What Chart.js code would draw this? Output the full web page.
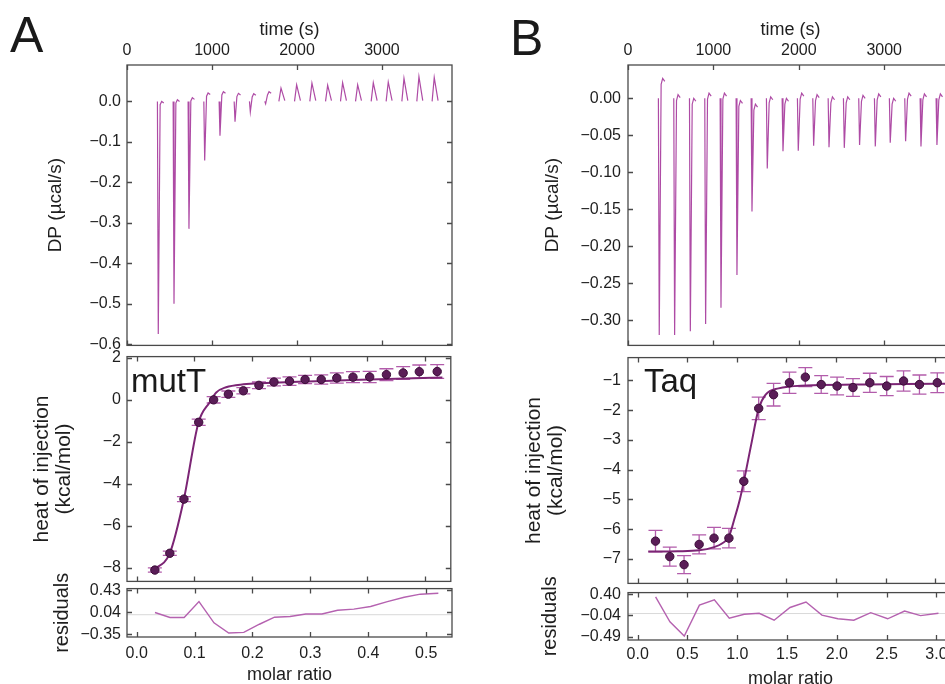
<!DOCTYPE html>
<html>
<head>
<meta charset="utf-8">
<script src="https://cdn.jsdelivr.net/npm/chart.js@4"></script>
<style>
  html, body { margin: 0; padding: 0; background: #fff; width: 945px; height: 684px; overflow: hidden; position: relative; }
  canvas { position: absolute; }
  .lbl { position: absolute; font-family: "Liberation Sans", Arial, Helvetica, sans-serif; line-height: 1; color: #1a1a1a; white-space: nowrap; }
</style>
</head>
<body>
<div class="lbl" style="left:10px;top:10px;font-size:50px">A</div>
<div class="lbl" style="left:510px;top:13px;font-size:50px">B</div>
<canvas id="aTop"></canvas>
<canvas id="aMid"></canvas>
<canvas id="aRes"></canvas>
<canvas id="bTop"></canvas>
<canvas id="bMid"></canvas>
<canvas id="bRes"></canvas>
<div class="lbl" style="left:131px;top:364px;font-size:33px">mutT</div>
<div class="lbl" style="left:644px;top:364px;font-size:33px">Taq</div>
<script>
// --- Shared axis ticks --- //
const timeTicks = [0, 1000, 2000, 3000];
const timeLabels = ['0', '1000', '2000', '3000'];

// --- Panel A (mutT) --- //
const injTimesA = [368, 553, 729, 914, 1094, 1271, 1451, 1631, 1812, 1996, 2176, 2361, 2537, 2714, 2898, 3074, 3259, 3435, 3615];
const peakDpA = [-0.575, -0.50, -0.315, -0.146, -0.085, -0.05, -0.026, -0.006, 0.033, 0.041, 0.045, 0.040, 0.046, 0.041, 0.046, 0.048, 0.057, 0.061, 0.059];
const endDpA = [0.0, 0.004, 0.009, 0.021, 0.024, 0.020, 0.019, 0.024, 0.002, 0.002, 0.002, 0.002, 0.002, 0.002, 0.002, 0.002, 0.002, 0.002, 0.002];
const dpTicksA = [0, -0.1, -0.2, -0.3, -0.4, -0.5, -0.6];
const dpLabelsA = ['0.0', '−0.1', '−0.2', '−0.3', '−0.4', '−0.5', '−0.6'];

const molarA = [0.0316, 0.0575, 0.082, 0.1076, 0.1335, 0.159, 0.185, 0.212, 0.238, 0.265, 0.292, 0.32, 0.347, 0.375, 0.404, 0.433, 0.462, 0.49, 0.521];
const heatA = [-8.11, -7.31, -4.73, -1.07, 0.0, 0.27, 0.43, 0.69, 0.85, 0.89, 0.97, 0.97, 1.04, 1.08, 1.09, 1.20, 1.28, 1.34, 1.35];
const heatErrA = [0.1, 0.1, 0.12, 0.15, 0.15, 0.15, 0.15, 0.16, 0.18, 0.2, 0.2, 0.22, 0.24, 0.26, 0.27, 0.28, 0.3, 0.32, 0.33];
const fitMolarA = [0.028, 0.0575, 0.082, 0.107, 0.127, 0.138, 0.155, 0.185, 0.225, 0.28, 0.35, 0.42, 0.48, 0.53];
const fitHeatA = [-8.12, -7.3, -4.72, -1.1, -0.1, 0.35, 0.6, 0.74, 0.8, 0.86, 0.92, 0.98, 1.03, 1.07];
const residA = [0.039, -0.049, -0.049, 0.232, -0.143, -0.324, -0.313, -0.169, -0.044, -0.032, 0.013, 0.013, 0.079, 0.10, 0.145, 0.232, 0.31, 0.364, 0.38];
const heatTicksA = [2, 0, -2, -4, -6, -8];
const heatLabelsA = ['2', '0', '−2', '−4', '−6', '−8'];
const residTicksA = [0.43, 0.04, -0.35];
const residLabelsA = ['0.43', '0.04', '−0.35'];
const molarTicksA = [0, 0.1, 0.2, 0.3, 0.4, 0.5];
const molarLabelsA = ['0.0', '0.1', '0.2', '0.3', '0.4', '0.5'];

// --- Panel B (Taq) --- //
const injTimesB = [366, 546, 730, 909, 1089, 1276, 1452, 1631, 1815, 1994, 2174, 2354, 2533, 2712, 2896, 3071, 3251, 3431, 3618];
const peakDpB = [-0.32, -0.32, -0.315, -0.305, -0.283, -0.239, -0.153, -0.095, -0.0715, -0.071, -0.064, -0.066, -0.067, -0.063, -0.065, -0.06, -0.058, -0.065, -0.063];
const endDpB = [0.027, 0.005, 0.0, 0.007, 0.007, -0.003, -0.008, 0.002, 0.0, 0.007, 0.005, 0.002, 0.002, 0.004, 0.006, 0.0, 0.007, 0.006, 0.006];
const dpTicksB = [0, -0.05, -0.1, -0.15, -0.2, -0.25, -0.3];
const dpLabelsB = ['0.00', '−0.05', '−0.10', '−0.15', '−0.20', '−0.25', '−0.30'];

const molarB = [0.18, 0.324, 0.468, 0.62, 0.77, 0.92, 1.07, 1.22, 1.37, 1.53, 1.69, 1.85, 2.01, 2.17, 2.34, 2.51, 2.68, 2.84, 3.02];
const heatB = [-6.40, -6.92, -7.19, -6.51, -6.30, -6.30, -4.39, -1.94, -1.48, -1.08, -0.89, -1.14, -1.19, -1.24, -1.08, -1.19, -1.02, -1.14, -1.08];
const heatErrB = [0.36, 0.32, 0.3, 0.32, 0.36, 0.33, 0.35, 0.38, 0.38, 0.36, 0.32, 0.3, 0.3, 0.3, 0.32, 0.32, 0.34, 0.32, 0.33];
const fitMolarB = [0.107, 0.4, 0.62, 0.77, 0.85, 0.92, 0.98, 1.03, 1.07, 1.145, 1.22, 1.29, 1.42, 1.7, 2.2, 2.7, 3.17];
const fitHeatB = [-6.75, -6.74, -6.71, -6.6, -6.48, -6.25, -5.6, -5.0, -4.4, -3.15, -1.95, -1.48, -1.27, -1.17, -1.14, -1.12, -1.11];
const residB = [0.348, -0.172, -0.471, 0.177, 0.286, -0.096, -0.014, 0.005, -0.14, 0.127, 0.242, -0.033, -0.109, -0.14, 0.019, -0.109, 0.051, -0.044, 0.005];
const heatTicksB = [-1, -2, -3, -4, -5, -6, -7];
const heatLabelsB = ['−1', '−2', '−3', '−4', '−5', '−6', '−7'];
const residTicksB = [0.40, -0.04, -0.49];
const residLabelsB = ['0.40', '−0.04', '−0.49'];
const molarTicksB = [0, 0.5, 1.0, 1.5, 2.0, 2.5, 3.0];
const molarLabelsB = ['0.0', '0.5', '1.0', '1.5', '2.0', '2.5', '3.0'];

// --- Styles --- //
const FONT = '"Liberation Sans", Arial, Helvetica, sans-serif';
const INK = '#1e1e1e';
const FRAME = '#4a4a4a';
const TRACE = 'rgba(165, 55, 155, 0.9)';
const MARKER = '#5a1d57';
const ERRBAR = '#b25cab';
const FIT = '#7c2575';
const RESID = '#b562b0';

// one short trace segment per injection, gaps in between
function thermogram(times, peaks, ends) {
    const pts = [];
    times.forEach((t, i) => {
        const p = peaks[i], e = ends[i];
        if (p < 0) {
            pts.push({ x: t - 10, y: 0 }, { x: t, y: p }, { x: t + 22, y: e - 0.008 }, { x: t + 40, y: e }, { x: t + 65, y: e - 0.004 });
        } else {
            pts.push({ x: t - 25, y: 0 }, { x: t, y: p }, { x: t + 45, y: e });
        }
        pts.push({ x: t + 80, y: null });
    });
    return pts;
}

const xy = (xs, ys) => xs.map((x, i) => ({ x, y: ys[i] }));

function axis(o) {
    return {
        type: 'linear',
        position: o.position,
        display: o.display !== false,
        min: o.min,
        max: o.max,
        afterBuildTicks: s => { s.ticks = o.ticks.map(v => ({ value: v })); },
        afterFit: s => {
            if (o.size == null) return;
            if (s.isHorizontal()) s.height = o.size; else s.width = o.size;
        },
        ticks: {
            display: !!o.labels,
            autoSkip: false,
            maxRotation: 0,
            padding: o.pad != null ? o.pad : 6,
            color: INK,
            font: { family: FONT, size: 16 },
            callback: (v, i) => (o.labels ? o.labels[i] : '')
        },
        grid: { display: false, drawTicks: false },
        border: { display: false },
        title: o.title ? {
            display: true,
            text: o.title,
            color: INK,
            font: { family: FONT, size: o.titleSize, lineHeight: o.titleLh || 1.1 },
            padding: o.titlePad || 0
        } : { display: false }
    };
}

// frame box with inward ticks on every side
function framePlugin(spec) {
    return {
        id: 'frame',
        beforeDatasetsDraw(chart) {
            if (spec.zero == null) return;
            const { ctx, chartArea: a } = chart;
            const py = chart.scales.y.getPixelForValue(spec.zero);
            ctx.save();
            ctx.strokeStyle = '#d9d9d9';
            ctx.lineWidth = 1;
            ctx.beginPath();
            ctx.moveTo(a.left, py);
            ctx.lineTo(a.right, py);
            ctx.stroke();
            ctx.restore();
        },
        afterDraw(chart) {
            const { ctx, chartArea: a } = chart;
            const xs = chart.scales.x, ys = chart.scales.y;
            const L = 5;
            ctx.save();
            ctx.strokeStyle = FRAME;
            ctx.lineWidth = 1.3;
            ctx.strokeRect(a.left, a.top, a.right - a.left, a.bottom - a.top);
            ctx.beginPath();
            (spec.top || []).forEach(v => {
                const px = Math.round(xs.getPixelForValue(v)) + 0.5;
                ctx.moveTo(px, a.top); ctx.lineTo(px, a.top + L);
            });
            (spec.bottom || []).forEach(v => {
                const px = Math.round(xs.getPixelForValue(v)) + 0.5;
                ctx.moveTo(px, a.bottom); ctx.lineTo(px, a.bottom - L);
            });
            (spec.y || []).forEach(v => {
                const py = Math.round(ys.getPixelForValue(v)) + 0.5;
                ctx.moveTo(a.left, py); ctx.lineTo(a.left + L, py);
                ctx.moveTo(a.right, py); ctx.lineTo(a.right - L, py);
            });
            ctx.stroke();
            ctx.restore();
        }
    };
}

const errorBars = {
    id: 'errorBars',
    beforeDatasetsDraw(chart) {
        const ctx = chart.ctx, ys = chart.scales.y;
        chart.data.datasets.forEach((ds, di) => {
            if (!ds.errors) return;
            const meta = chart.getDatasetMeta(di);
            ctx.save();
            ctx.strokeStyle = ERRBAR;
            ctx.lineWidth = 1.3;
            ctx.beginPath();
            meta.data.forEach((pt, i) => {
                const v = ds.data[i].y, e = ds.errors[i];
                const y1 = ys.getPixelForValue(v + e), y2 = ys.getPixelForValue(v - e);
                ctx.moveTo(pt.x, y1); ctx.lineTo(pt.x, y2);
                ctx.moveTo(pt.x - 7, y1); ctx.lineTo(pt.x + 7, y1);
                ctx.moveTo(pt.x - 7, y2); ctx.lineTo(pt.x + 7, y2);
            });
            ctx.stroke();
            ctx.restore();
        });
    }
};

function makeChart(id, box, datasets, scales, spec) {
    const cv = document.getElementById(id);
    cv.width = box.w;
    cv.height = box.h;
    cv.style.left = box.left + 'px';
    cv.style.top = box.top + 'px';
    return new Chart(cv, {
        type: 'line',
        data: { datasets },
        options: {
            responsive: false,
            animation: false,
            events: [],
            layout: { padding: box.pad },
            plugins: { legend: { display: false }, tooltip: { enabled: false } },
            scales
        },
        plugins: [errorBars, framePlugin(spec)]
    });
}

const traceSet = data => ({ data, borderColor: TRACE, borderWidth: 1.2, pointRadius: 0, tension: 0, spanGaps: false });
const pointSet = (data, errors) => ({ data, errors, showLine: false, pointRadius: 4.2, pointBackgroundColor: MARKER, pointBorderColor: '#3a0c37', pointBorderWidth: 1 });
const fitSet = data => ({ data, borderColor: FIT, borderWidth: 2, pointRadius: 0, cubicInterpolationMode: 'monotone' });
const residSet = data => ({ data, borderColor: RESID, borderWidth: 1.4, pointRadius: 0, tension: 0 });

// --- Panel A --- //
makeChart('aTop', { left: 45, top: 0, w: 411, h: 361, pad: { left: 0, right: 4, top: 0, bottom: 12 } },
    [traceSet(thermogram(injTimesA, peakDpA, endDpA))],
    {
        x: axis({ position: 'top', min: 0, max: 3824, ticks: timeTicks, labels: timeLabels, size: 65, pad: 5, title: 'time (s)', titleSize: 18, titleLh: 1.2, titlePad: { top: 19, bottom: 0 } }),
        y: axis({ position: 'left', min: -0.603, max: 0.09, ticks: dpTicksA, labels: dpLabelsA, size: 82, title: 'DP (µcal/s)', titleSize: 19 })
    },
    { top: timeTicks, bottom: timeTicks, y: dpTicksA });

makeChart('aMid', { left: 31, top: 341, w: 425, h: 256, pad: { left: 0, right: 4, top: 12, bottom: 12 } },
    [pointSet(xy(molarA, heatA), heatErrA), fitSet(xy(fitMolarA, fitHeatA))],
    {
        x: axis({ position: 'bottom', display: false, min: -0.0167, max: 0.5446, ticks: molarTicksA }),
        y: axis({ position: 'left', min: -8.65, max: 2.06, ticks: heatTicksA, labels: heatLabelsA, size: 96, title: ['heat of injection', '(kcal/mol)'], titleSize: 21, titleLh: 1.05 })
    },
    { top: molarTicksA, bottom: molarTicksA, y: heatTicksA });

makeChart('aRes', { left: 51, top: 573, w: 405, h: 113, pad: { left: 0, right: 4, top: 12, bottom: 0 } },
    [residSet(xy(molarA, residA))],
    {
        x: axis({ position: 'bottom', min: -0.0167, max: 0.5446, ticks: molarTicksA, labels: molarLabelsA, size: 49, pad: 7, title: 'molar ratio', titleSize: 18, titleLh: 1.2 }),
        y: axis({ position: 'left', min: -0.395, max: 0.463, ticks: residTicksA, labels: residLabelsA, size: 76, title: 'residuals', titleSize: 20 })
    },
    { top: molarTicksA, bottom: molarTicksA, y: residTicksA, zero: 0 });

// --- Panel B --- //
makeChart('bTop', { left: 542, top: 0, w: 415, h: 362, pad: { left: 0, right: 4, top: 0, bottom: 12 } },
    [traceSet(thermogram(injTimesB, peakDpB, endDpB))],
    {
        x: axis({ position: 'top', min: 0, max: 3806, ticks: timeTicks, labels: timeLabels, size: 65, pad: 5, title: 'time (s)', titleSize: 18, titleLh: 1.2, titlePad: { top: 19, bottom: 0 } }),
        y: axis({ position: 'left', min: -0.334, max: 0.045, ticks: dpTicksB, labels: dpLabelsB, size: 86, pad: 7, title: 'DP (µcal/s)', titleSize: 19 })
    },
    { top: timeTicks, bottom: timeTicks, y: dpTicksB });

makeChart('bMid', { left: 523, top: 341, w: 434, h: 259, pad: { left: 0, right: 4, top: 12, bottom: 12 } },
    [pointSet(xy(molarB, heatB), heatErrB), fitSet(xy(fitMolarB, fitHeatB))],
    {
        x: axis({ position: 'bottom', display: false, min: -0.097, max: 3.166, ticks: molarTicksB }),
        y: axis({ position: 'left', min: -7.82, max: -0.235, ticks: heatTicksB, labels: heatLabelsB, size: 105, pad: 7, title: ['heat of injection', '(kcal/mol)'], titleSize: 21, titleLh: 1.05 })
    },
    { top: molarTicksB, bottom: molarTicksB, y: heatTicksB });

makeChart('bRes', { left: 539, top: 576, w: 418, h: 114, pad: { left: 0, right: 4, top: 12, bottom: 0 } },
    [residSet(xy(molarB, residB))],
    {
        x: axis({ position: 'bottom', min: -0.097, max: 3.166, ticks: molarTicksB, labels: molarLabelsB, size: 50, pad: 5, title: 'molar ratio', titleSize: 18, titleLh: 1.2 }),
        y: axis({ position: 'left', min: -0.553, max: 0.438, ticks: residTicksB, labels: residLabelsB, size: 89, pad: 7, title: 'residuals', titleSize: 20 })
    },
    { top: molarTicksB, bottom: molarTicksB, y: residTicksB, zero: 0 });
</script>
</body>
</html>
